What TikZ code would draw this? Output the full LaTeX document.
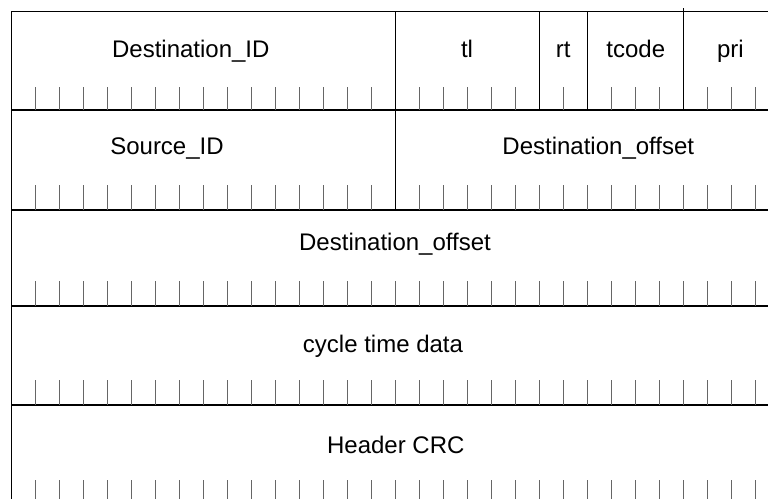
\documentclass[tikz,border=0pt]{standalone}
\usepackage{fontspec}
\setmainfont{Liberation Sans}
\usetikzlibrary{arrows}
\tikzstyle{field} = [anchor=base, inner sep=0pt, font=\fontsize{12}{14}\selectfont]
\tikzstyle{rowline} = [line width=1pt, black]
\tikzstyle{border} = [line width=0.65pt, black]
\tikzstyle{divider} = [line width=0.5pt, black]
\tikzstyle{bittick} = [line width=0.5pt, black!60]
\begin{document}
\begin{tikzpicture}[x=0.5pt,y=-0.5pt]
\useasboundingbox (0,0) rectangle (768,499);
\clip (0,0) rectangle (768,499);
%
% frame and rows
\draw [divider] (11,11) -- (779,11);
\draw [border] (11.7,11) -- (11.7,504);
\foreach \y in {110,210,306,405,504}
  \draw [rowline] (11,\y) -- (779,\y);
%
% bit ticks
\foreach \top/\bot in {87/110,185/210,281/306,380/405,480/504}
  \foreach \k in {1,...,31}
    \draw [bittick] (11+24*\k,\top) -- (11+24*\k,\bot);
%
% field dividers
\draw [divider] (395,11) -- (395,210);
\draw [divider] (539,11) -- (539,110);
\draw [divider] (587,11) -- (587,110);
\draw [divider] (683,8) -- (683,110);
%
\node (dest_id) [field] at (190.8,57.7) {Destination\_ID};
\node (tl) [field] at (467,57.7) {tl};
\node (rt) [field] at (563.3,57.7) {rt};
\node (tcode) [field] at (635.8,57.7) {tcode};
\node (pri) [field] at (730.4,57.7) {pri};
\node (src_id) [field] at (167,154.3) {Source\_ID};
\node (dest_off_hi) [field] at (598.3,154.3) {Destination\_offset};
\node (dest_off_lo) [field] at (395,250.7) {Destination\_offset};
\node (cycle) [field] at (383,352.3) {cycle time data};
\node (crc) [field] at (395.8,453.3) {Header CRC};
%
\end{tikzpicture}
\end{document}
